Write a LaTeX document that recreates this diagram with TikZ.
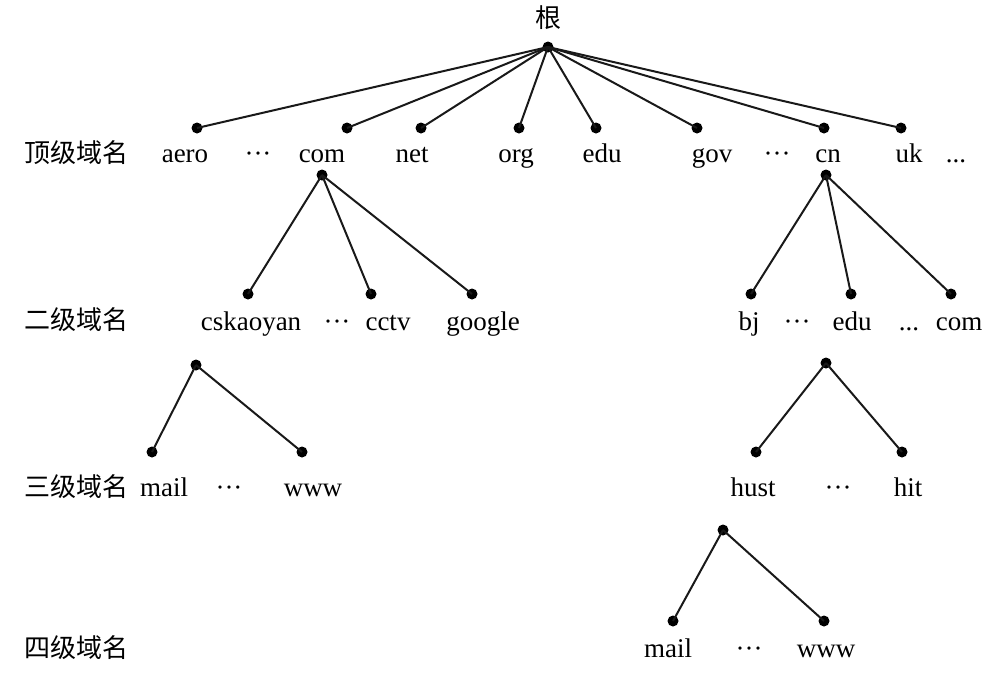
\documentclass[tikz,border=0pt]{standalone}
\usepackage{fontspec}
\setmainfont{Liberation Serif}
\newfontfamily\cjk{Noto Sans CJK SC}
\newcommand{\mydots}{\textperiodcentered\textperiodcentered\textperiodcentered}
\begin{document}
\begin{tikzpicture}[x=1pt,y=-1pt,
  dot/.style={circle,fill=black,inner sep=0pt,minimum size=11pt},
  lab/.style={anchor=base,inner sep=0pt,font=\fontsize{27}{30}\selectfont},
  lvl/.style={anchor=center,inner sep=0pt,font=\cjk\fontsize{26}{28}\selectfont},
  edge/.style={line width=2pt,black!90}]
\useasboundingbox (0,0) rectangle (1001,694);
% root
\node[lvl] (rootlab) at (548,18) {根};
\node[dot] (root) at (548,47) {};
% top-level
\node[dot] (aero) at (197,128) {};
\node[dot] (com) at (347,128) {};
\node[dot] (net) at (421,128) {};
\node[dot] (org) at (519,128) {};
\node[dot] (edu) at (596,128) {};
\node[dot] (gov) at (697,128) {};
\node[dot] (cn) at (824,128) {};
\node[dot] (uk) at (901,128) {};
\foreach \n in {aero,com,net,org,edu,gov,cn,uk} \draw[edge] (root.center) -- (\n.center);
\node[lvl] (l1) at (76,153) {顶级域名};
\node[lab] (t-aero) at (185,162) {aero};
\node[lab] (t-d1) at (258,162) {\mydots};
\node[lab] (t-com) at (322,162) {com};
\node[lab] (t-net) at (412,162) {net};
\node[lab] (t-org) at (516,162) {org};
\node[lab] (t-edu) at (602,162) {edu};
\node[lab] (t-gov) at (712,162) {gov};
\node[lab] (t-d2) at (777,162) {\mydots};
\node[lab] (t-cn) at (828,162) {cn};
\node[lab] (t-uk) at (909,162) {uk};
\node[lab] (t-d3) at (956,162) {...};
% second level, com subtree
\node[dot] (comtop) at (322,175) {};
\node[dot] (csk) at (248,294) {};
\node[dot] (cctv) at (371,294) {};
\node[dot] (google) at (472,294) {};
\foreach \n in {csk,cctv,google} \draw[edge] (comtop.center) -- (\n.center);
% second level, cn subtree
\node[dot] (cntop) at (826,175) {};
\node[dot] (bj) at (751,294) {};
\node[dot] (cnedu) at (851,294) {};
\node[dot] (cncom) at (951,294) {};
\foreach \n in {bj,cnedu,cncom} \draw[edge] (cntop.center) -- (\n.center);
\node[lvl] (l2) at (76,320) {二级域名};
\node[lab] (s-csk) at (251,330) {cskaoyan};
\node[lab] (s-d1) at (337,330) {\mydots};
\node[lab] (s-cctv) at (388,330) {cctv};
\node[lab] (s-google) at (483,330) {google};
\node[lab] (s-bj) at (749,330) {bj};
\node[lab] (s-d2) at (797,330) {\mydots};
\node[lab] (s-edu) at (852,330) {edu};
\node[lab] (s-d3) at (909,330) {...};
\node[lab] (s-com) at (959,330) {com};
% third level
\node[dot] (csktop) at (196,365) {};
\node[dot] (mail3) at (152,452) {};
\node[dot] (www3) at (302,452) {};
\draw[edge] (csktop.center) -- (mail3.center);
\draw[edge] (csktop.center) -- (www3.center);
\node[dot] (edutop) at (826,363) {};
\node[dot] (hust) at (756,452) {};
\node[dot] (hit) at (902,452) {};
\draw[edge] (edutop.center) -- (hust.center);
\draw[edge] (edutop.center) -- (hit.center);
\node[lvl] (l3) at (76,487) {三级域名};
\node[lab] (r-mail) at (164,496) {mail};
\node[lab] (r-d1) at (229,496) {\mydots};
\node[lab] (r-www) at (313,496) {www};
\node[lab] (r-hust) at (753,496) {hust};
\node[lab] (r-d2) at (838,496) {\mydots};
\node[lab] (r-hit) at (908,496) {hit};
% fourth level
\node[dot] (husttop) at (723,530) {};
\node[dot] (mail4) at (673,621) {};
\node[dot] (www4) at (824,621) {};
\draw[edge] (husttop.center) -- (mail4.center);
\draw[edge] (husttop.center) -- (www4.center);
\node[lvl] (l4) at (76,648) {四级域名};
\node[lab] (f-mail) at (668,657) {mail};
\node[lab] (f-d1) at (749,657) {\mydots};
\node[lab] (f-www) at (826,657) {www};
\end{tikzpicture}
\end{document}
